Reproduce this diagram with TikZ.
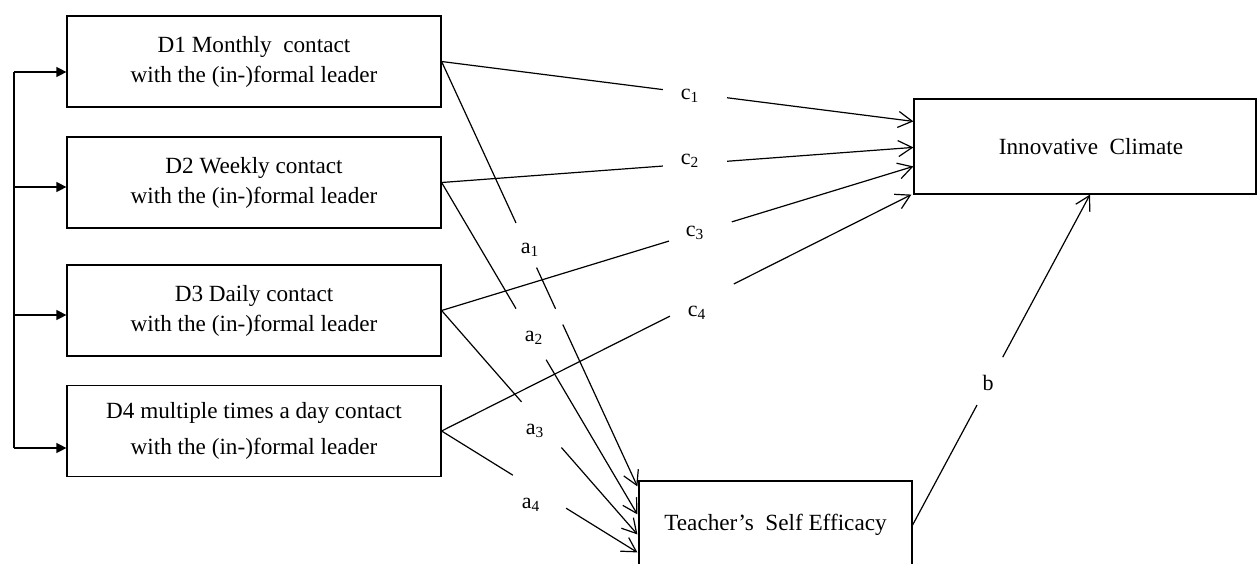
\documentclass[tikz,border=0pt]{standalone}
\usepackage{fontspec}
\setmainfont{Liberation Serif}
\usetikzlibrary{arrows.meta,calc}
\begin{document}
\begin{tikzpicture}[x=0.5pt,y=-0.5pt,
  box/.style={draw, line width=0.6pt, align=center, inner sep=0pt,
    font=\fontsize{11.6}{15}\selectfont},
  dbox/.style={box, minimum width=187pt, minimum height=45.5pt},
  lab/.style={font=\fontsize{11}{13}\selectfont, inner sep=1pt},
  conn/.style={line width=0.6pt},
  arr/.style={conn, -{Straight Barb[length=7pt,width=8pt]}},
  tri/.style={conn, -{Triangle[length=5pt,width=5pt]}}]
\clip (0,0) rectangle (1258,563);
% boxes
\node[dbox] (D1) at (254,61.5) {D1 Monthly\ \ contact\\with the (in-)formal leader};
\node[dbox] (D2) at (254,182.5) {D2 Weekly contact\\with the (in-)formal leader};
\node[dbox] (D3) at (254,310.5) {D3 Daily contact\\with the (in-)formal leader};
\node[dbox, font=\fontsize{11.6}{18}\selectfont] (D4) at (254,431) {D4 multiple times a day contact\\with the (in-)formal leader};
\node[box, minimum width=171pt, minimum height=47.5pt] (IC) at (1085,146.5) {\hspace{6pt}Innovative\ \ Climate};
\node[box, minimum width=136.5pt, minimum height=44pt] (TSE) at (775.5,525) {Teacher’s\ \ Self Efficacy};
% labels
\node[lab] (c1) at (690,96) {c\textsubscript{1}};
\node[lab] (c2) at (690,161) {c\textsubscript{2}};
\node[lab] (c3) at (695,233) {c\textsubscript{3}};
\node[lab] (c4) at (697,313) {c\textsubscript{4}};
\node[lab] (a1) at (530,250) {a\textsubscript{1}};
\node[lab] (a2) at (534,338) {a\textsubscript{2}};
\node[lab] (a3) at (535,431) {a\textsubscript{3}};
\node[lab] (a4) at (531,505) {a\textsubscript{4}};
\node[lab] (b) at (988,383) {b};
% end coordinates
\coordinate (ic1) at ($(IC.north west)+(0,23)$);
\coordinate (ic2) at ($(IC.north west)+(0,49)$);
\coordinate (ic3) at ($(IC.north west)+(0,68)$);
\coordinate (ic4) at ($(IC.south west)+(-2,0)$);
\coordinate (icb) at ($(IC.south)+(5,0)$);
\coordinate (t1) at ($(TSE.north west)+(-1,6)$);
\coordinate (t2) at ($(TSE.north west)+(-1,34)$);
\coordinate (t3) at ($(TSE.north west)+(-1,54)$);
\coordinate (t4) at ($(TSE.north west)+(-1,72)$);
% bracket
\coordinate (br1) at (14,72);
\coordinate (br2) at (14,187);
\coordinate (br3) at (14,315);
\coordinate (br4) at (14,448);
\draw[conn] (br1) -- (br4);
\draw[tri] (br1) -- (br1 -| D1.west);
\draw[tri] (br2) -- (br2 -| D2.west);
\draw[tri] (br3) -- (br3 -| D3.west);
\draw[tri] (br4) -- (br4 -| D4.west);
% c paths
\draw[conn] (D1.east) -- ($(D1.east)!0.469!(ic1)$);
\draw[arr] ($(D1.east)!0.605!(ic1)$) -- (ic1);
\draw[conn] (D2.east) -- ($(D2.east)!0.469!(ic2)$);
\draw[arr] ($(D2.east)!0.605!(ic2)$) -- (ic2);
\draw[conn] (D3.east) -- ($(D3.east)!0.482!(ic3)$);
\draw[arr] ($(D3.east)!0.615!(ic3)$) -- (ic3);
\draw[conn] (D4.east) -- ($(D4.east)!0.486!(ic4)$);
\draw[arr] ($(D4.east)!0.622!(ic4)$) -- (ic4);
% a paths
\draw[conn] (D1.east) -- ($(D1.east)!0.380!(t1)$);
\draw[conn] ($(D1.east)!0.485!(t1)$) -- ($(D1.east)!0.582!(t1)$);
\draw[arr] ($(D1.east)!0.619!(t1)$) -- (t1);
\draw[conn] (D2.east) -- ($(D2.east)!0.380!(t2)$);
\draw[arr] ($(D2.east)!0.534!(t2)$) -- (t2);
\draw[conn] (D3.east) -- ($(D3.east)!0.408!(t3)$);
\draw[arr] ($(D3.east)!0.612!(t3)$) -- (t3);
\draw[conn] (D4.east) -- ($(D4.east)!0.364!(t4)$);
\draw[arr] ($(D4.east)!0.636!(t4)$) -- (t4);
% b path
\draw[conn] (TSE.east) -- ($(TSE.east)!0.363!(icb)$);
\draw[arr] ($(TSE.east)!0.508!(icb)$) -- (icb);
\end{tikzpicture}
\end{document}
